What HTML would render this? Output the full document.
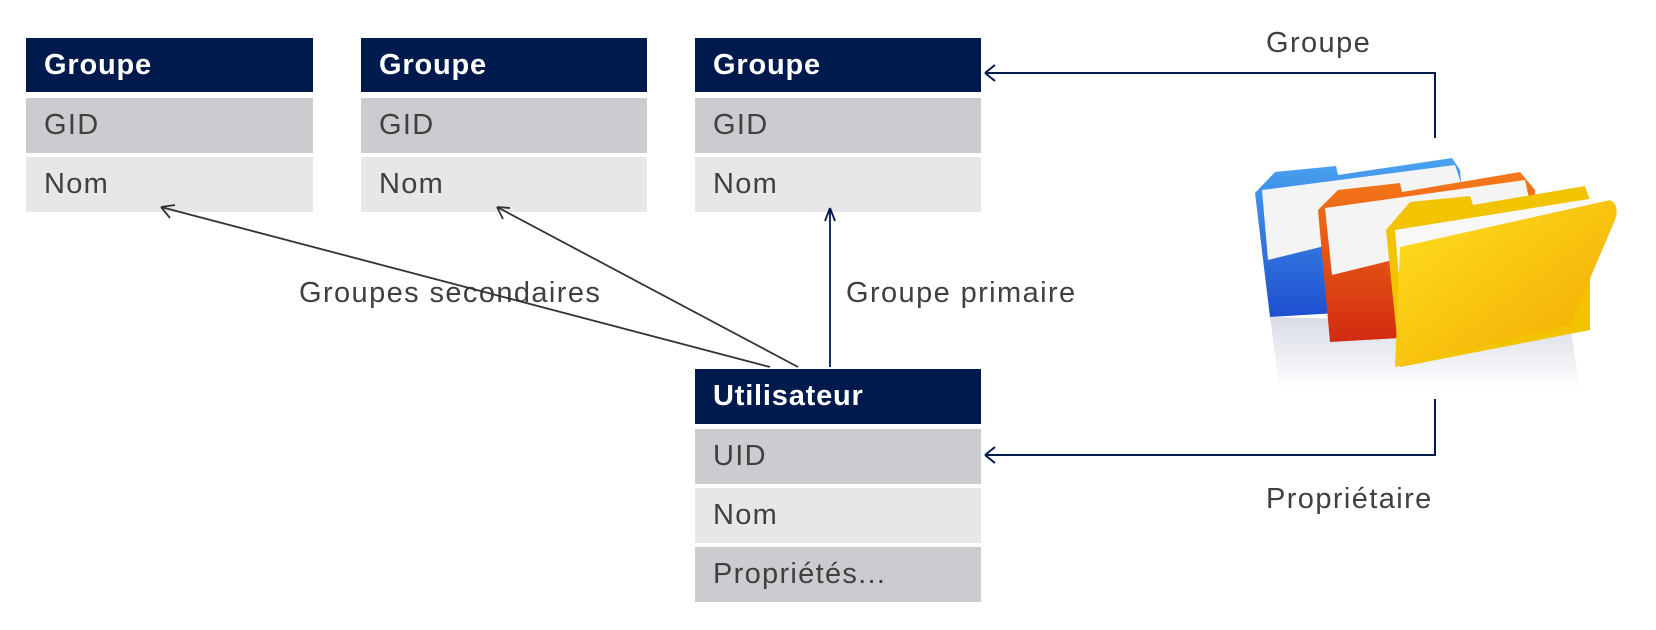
<!DOCTYPE html>
<html><head><meta charset="utf-8"><style>
body{margin:0;width:1656px;height:630px;background:#fff;position:relative;overflow:hidden;font-family:"Liberation Sans",sans-serif}
.b{position:absolute;box-sizing:border-box;padding-left:18px;font-size:29px;letter-spacing:1.3px;color:#404040;display:flex;align-items:center}
.h{background:#001a4d;color:#fff;font-weight:bold;font-size:29px;letter-spacing:0.8px}
.g{background:#cbccd0}.l{background:#e7e7e9}
.t{position:absolute;font-size:29px;letter-spacing:1.4px;color:#404040;white-space:nowrap}
</style></head><body>
<div class="b h" style="left:26px;top:38px;width:287px;height:54px">Groupe</div>
<div class="b g" style="left:26px;top:98px;width:287px;height:55px">GID</div>
<div class="b l" style="left:26px;top:157px;width:287px;height:55px">Nom</div>
<div class="b h" style="left:361px;top:38px;width:286px;height:54px">Groupe</div>
<div class="b g" style="left:361px;top:98px;width:286px;height:55px">GID</div>
<div class="b l" style="left:361px;top:157px;width:286px;height:55px">Nom</div>
<div class="b h" style="left:695px;top:38px;width:286px;height:54px">Groupe</div>
<div class="b g" style="left:695px;top:98px;width:286px;height:55px">GID</div>
<div class="b l" style="left:695px;top:157px;width:286px;height:55px">Nom</div>
<div class="b h" style="left:695px;top:369px;width:286px;height:55px">Utilisateur</div>
<div class="b g" style="left:695px;top:429px;width:286px;height:55px">UID</div>
<div class="b l" style="left:695px;top:488px;width:286px;height:55px">Nom</div>
<div class="b g" style="left:695px;top:547px;width:286px;height:55px">Propriétés...</div>
<div class="t" style="left:299px;top:277px">Groupes secondaires</div>
<div class="t" style="left:846px;top:277px">Groupe primaire</div>
<div class="t" style="left:1266px;top:27px">Groupe</div>
<div class="t" style="left:1266px;top:483px">Propriétaire</div>
<svg width="1656" height="630" style="position:absolute;left:0;top:0">
<g fill="none" stroke-width="1.8">
<path d="M770 367 L161 207 M161 207 l14 -2 M161 207 l9 11" stroke="#333"/>
<path d="M798 367 L497 207 M497 207 l13 1 M497 207 l6 12" stroke="#333"/>
<path d="M830 367 V208 M830 208 l-5 13 M830 208 l5 13" stroke="#001a4d"/>
<path d="M1435 138 V73 H985 M985 73 l10 -8 M985 73 l10 8" stroke="#001a4d" stroke-width="2"/>
<path d="M1435 399 V455 H985 M985 455 l10 -8 M985 455 l10 8" stroke="#001a4d" stroke-width="2"/>
</g>
<defs>
<linearGradient id="bl" x1="0" y1="0" x2="0" y2="1"><stop offset="0" stop-color="#4aa3f0"/><stop offset="1" stop-color="#1e4fd0"/></linearGradient>
<linearGradient id="or" x1="0" y1="0" x2="0" y2="1"><stop offset="0" stop-color="#f57a1a"/><stop offset="1" stop-color="#d22a10"/></linearGradient>
<linearGradient id="ye" x1="0" y1="0" x2="1" y2="1"><stop offset="0" stop-color="#ffe020"/><stop offset="1" stop-color="#f2a800"/></linearGradient>
<linearGradient id="sh" x1="0" y1="0" x2="0" y2="1"><stop offset="0" stop-color="#d8dbe6"/><stop offset="1" stop-color="#fff"/></linearGradient>
</defs>
<path d="M1270 317 L1570 325 L1580 390 L1280 390 Z" fill="url(#sh)"/>
<path d="M1255 193 L1275 172 L1336 166 L1338 175 L1452 158 L1460 170 L1472 305 L1270 317 Z" fill="url(#bl)"/>
<path d="M1262 190 L1455 165 L1470 210 L1268 260 Z" fill="#f4f4f4"/>
<path d="M1318 210 L1338 190 L1400 183 L1402 192 L1520 172 L1535 190 L1540 330 L1330 342 Z" fill="url(#or)"/>
<path d="M1325 208 L1525 180 L1535 225 L1332 275 Z" fill="#f4f4f4"/>
<path d="M1386 230 L1410 202 L1470 196 L1473 205 L1585 186 L1590 200 L1590 330 L1400 367 Z" fill="#f2c400"/>
<path d="M1395 230 L1595 198 L1600 245 L1400 290 Z" fill="#f8f8f8"/>
<path d="M1400 247 L1610 200 Q1620 205 1615 220 L1570 325 L1395 367 Z" fill="url(#ye)"/>
</svg>
</body></html>
